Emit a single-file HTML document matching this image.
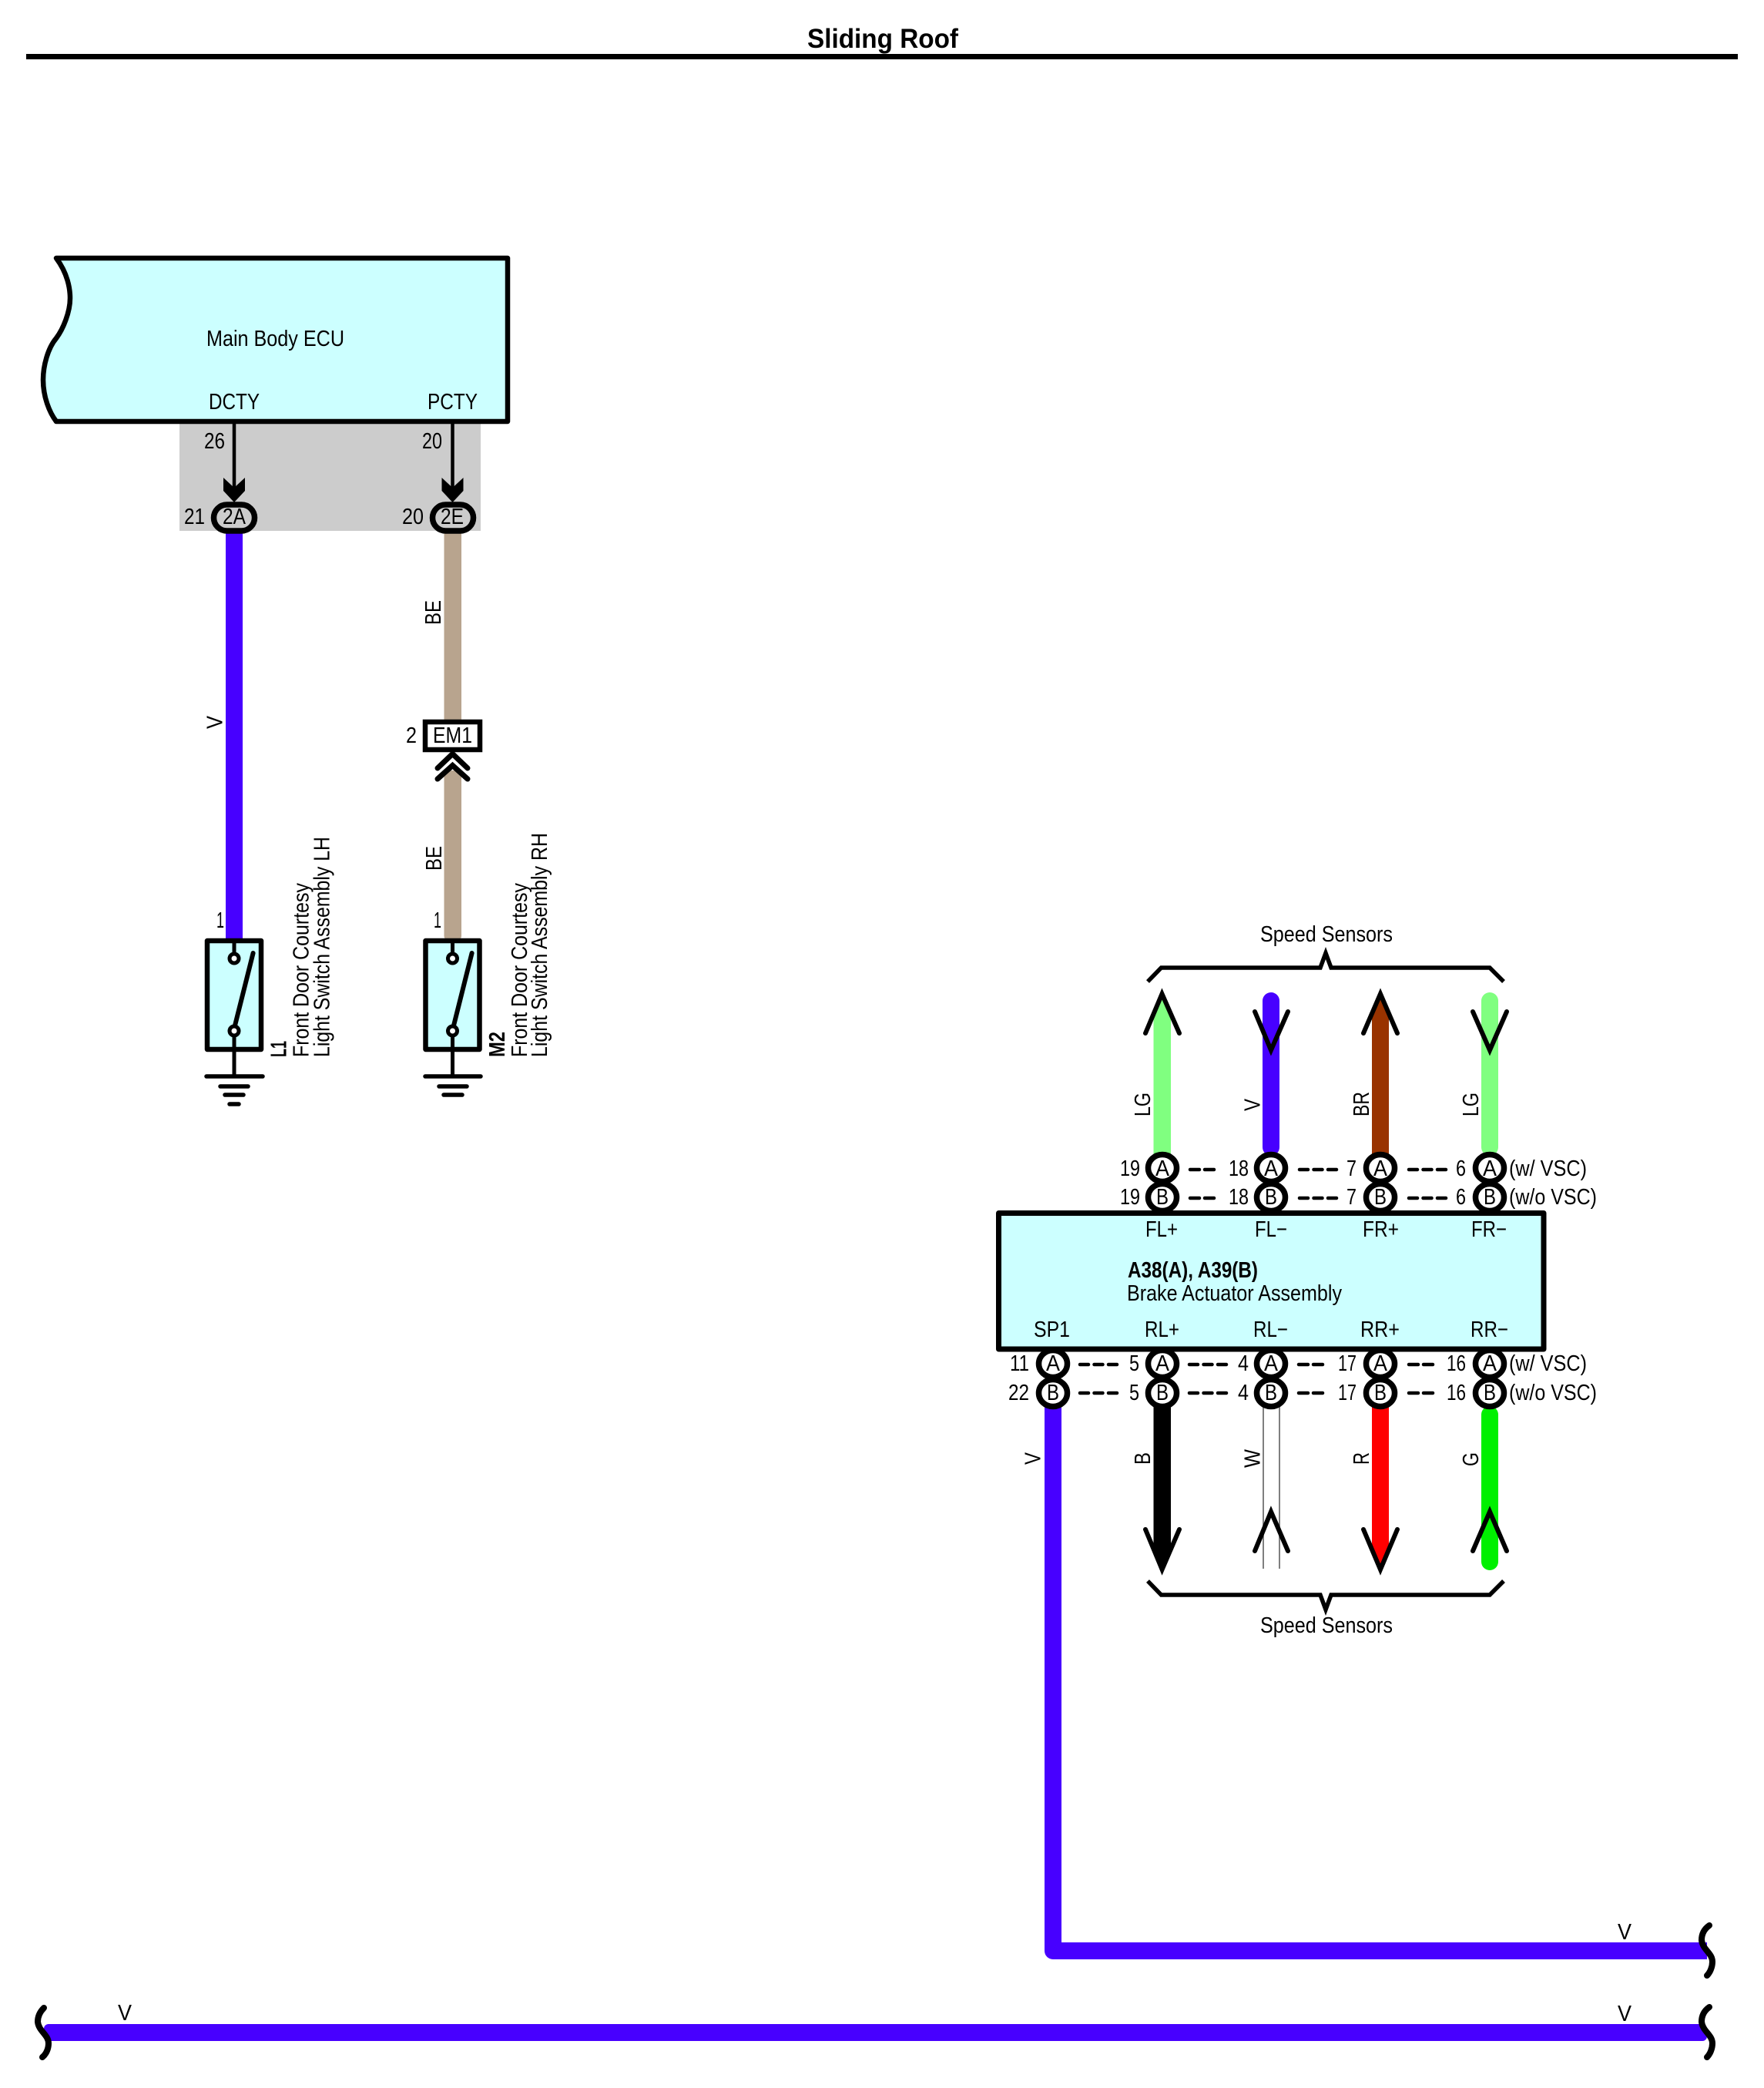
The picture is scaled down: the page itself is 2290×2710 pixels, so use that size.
<!DOCTYPE html>
<html><head><meta charset="utf-8"><title>Sliding Roof</title>
<style>
html,body{margin:0;padding:0;background:#fff}
svg{display:block}
text{font-family:"Liberation Sans",sans-serif;font-size:29px;fill:#000}
.b{font-weight:bold}
.c{stroke:#000;stroke-width:7.5;fill:#fff}
.d{stroke:#000;stroke-width:5.5;fill:none;stroke-linecap:round}
.ch{stroke:#000;stroke-width:6;fill:none;stroke-linecap:round;stroke-linejoin:miter}
</style></head><body>
<svg xmlns="http://www.w3.org/2000/svg" width="2290" height="2710" viewBox="0 0 2290 2710">
<rect width="2290" height="2710" fill="#fff"/>
<!-- title -->
<rect x="34" y="70" width="2222" height="7" fill="#000"/>
<text class="b" x="1048" y="62" style="font-size:35px" textLength="196" lengthAdjust="spacingAndGlyphs">Sliding Roof</text>

<!-- gray block -->
<rect x="233" y="547" width="391" height="142" fill="#ccc"/>
<!-- main body ECU -->
<path d="M73,335 C88,355 91,375 91,387 C91,405 82,427 73,439 C62,452 56,475 56,493 C56,515 64,535 73,547 L659,547 L659,335 Z" fill="#ccffff" stroke="#000" stroke-width="6.5" stroke-linejoin="round"/>
<text x="268" y="449" textLength="179" lengthAdjust="spacingAndGlyphs">Main Body ECU</text>
<text x="271" y="531" textLength="66" lengthAdjust="spacingAndGlyphs">DCTY</text>
<text x="555" y="531" textLength="65" lengthAdjust="spacingAndGlyphs">PCTY</text>
<text x="265" y="582" textLength="27" lengthAdjust="spacingAndGlyphs">26</text>
<text x="548" y="582" textLength="26" lengthAdjust="spacingAndGlyphs">20</text>
<text x="239" y="680" textLength="27" lengthAdjust="spacingAndGlyphs">21</text>
<text x="522" y="680" textLength="28" lengthAdjust="spacingAndGlyphs">20</text>
<line x1="304" y1="550" x2="304" y2="640" stroke="#000" stroke-width="4.5"/>
<line x1="587.5" y1="550" x2="587.5" y2="640" stroke="#000" stroke-width="4.5"/>
<polygon points="290,620 304,633 318,620 318,637 304,652 290,637" fill="#000"/>
<polygon points="573.5,620 587.5,633 601.5,620 601.5,637 587.5,652 573.5,637" fill="#000"/>

<!-- wires left -->
<rect x="293" y="690" width="22" height="530" fill="#4700ff"/>
<rect x="576.5" y="690" width="22.5" height="248" fill="#b8a48e"/>
<rect x="576.5" y="1000" width="22.5" height="220" rx="5" fill="#b8a48e"/>
<rect x="277.5" y="655" width="53" height="34" rx="17" fill="#ccc" stroke="#000" stroke-width="7.5"/>
<rect x="561.5" y="655" width="53" height="34" rx="17" fill="#ccc" stroke="#000" stroke-width="7.5"/>
<text x="289" y="680" textLength="30" lengthAdjust="spacingAndGlyphs">2A</text>
<text x="572" y="680" textLength="30" lengthAdjust="spacingAndGlyphs">2E</text>

<!-- EM1 -->
<rect x="552" y="937" width="71" height="36" fill="#fff" stroke="#000" stroke-width="6.5"/>
<text x="562" y="964" textLength="51" lengthAdjust="spacingAndGlyphs">EM1</text>
<text x="527" y="964" textLength="14" lengthAdjust="spacingAndGlyphs">2</text>
<polyline points="568,997 587.5,978.5 607,997" class="ch" style="stroke-width:7"/>
<polyline points="568,1011 587.5,993.5 607,1011" class="ch" style="stroke-width:7"/>

<!-- left rotated wire labels -->
<text transform="translate(288.6,946) rotate(-90)" textLength="17" lengthAdjust="spacingAndGlyphs">V</text>
<text transform="translate(572,811) rotate(-90)" textLength="32" lengthAdjust="spacingAndGlyphs">BE</text>
<text transform="translate(573,1130) rotate(-90)" textLength="32" lengthAdjust="spacingAndGlyphs">BE</text>
<text x="281" y="1204" textLength="10" lengthAdjust="spacingAndGlyphs">1</text>
<text x="563" y="1204" textLength="10" lengthAdjust="spacingAndGlyphs">1</text>

<!-- switch L1 -->
<rect x="269" y="1221" width="70" height="141" fill="#ccffff" stroke="#000" stroke-width="6.5" stroke-linejoin="round"/>
<line x1="304" y1="1221" x2="304" y2="1237" stroke="#000" stroke-width="5"/>
<circle cx="304" cy="1244" r="6" fill="#fff" stroke="#000" stroke-width="5"/>
<line x1="328.6" y1="1237" x2="305" y2="1331" stroke="#000" stroke-width="6" stroke-linecap="round"/>
<circle cx="304" cy="1338" r="6" fill="#fff" stroke="#000" stroke-width="5"/>
<line x1="304" y1="1345" x2="304" y2="1397" stroke="#000" stroke-width="5"/>
<line x1="268" y1="1397" x2="341" y2="1397" class="d"/>
<line x1="286" y1="1410" x2="322" y2="1410" class="d"/>
<line x1="292" y1="1421" x2="316" y2="1421" class="d"/>
<line x1="298" y1="1433" x2="310" y2="1433" class="d"/>
<text class="b" transform="translate(371.5,1372) rotate(-90)" textLength="21" lengthAdjust="spacingAndGlyphs">L1</text>
<text transform="translate(400.7,1372) rotate(-90)" textLength="226" lengthAdjust="spacingAndGlyphs">Front Door Courtesy</text>
<text transform="translate(427.5,1372) rotate(-90)" textLength="286" lengthAdjust="spacingAndGlyphs">Light Switch Assembly LH</text>

<!-- switch M2 -->
<rect x="552.5" y="1221" width="70" height="141" fill="#ccffff" stroke="#000" stroke-width="6.5" stroke-linejoin="round"/>
<line x1="587.5" y1="1221" x2="587.5" y2="1237" stroke="#000" stroke-width="5"/>
<circle cx="587.5" cy="1244" r="6" fill="#fff" stroke="#000" stroke-width="5"/>
<line x1="612.6" y1="1237" x2="589" y2="1331" stroke="#000" stroke-width="6" stroke-linecap="round"/>
<circle cx="587.5" cy="1338" r="6" fill="#fff" stroke="#000" stroke-width="5"/>
<line x1="587.5" y1="1345" x2="587.5" y2="1397" stroke="#000" stroke-width="5"/>
<line x1="552" y1="1397" x2="624" y2="1397" class="d"/>
<line x1="570" y1="1410" x2="606" y2="1410" class="d"/>
<line x1="576" y1="1421" x2="600" y2="1421" class="d"/>
<text class="b" transform="translate(655,1372) rotate(-90)" textLength="33" lengthAdjust="spacingAndGlyphs">M2</text>
<text transform="translate(684,1372) rotate(-90)" textLength="226" lengthAdjust="spacingAndGlyphs">Front Door Courtesy</text>
<text transform="translate(710,1372) rotate(-90)" textLength="291" lengthAdjust="spacingAndGlyphs">Light Switch Assembly RH</text>

<!-- top speed sensors -->
<text x="1636" y="1222" textLength="172" lengthAdjust="spacingAndGlyphs">Speed Sensors</text>
<polyline points="1490,1274 1507.5,1256 1714,1256 1721,1237 1728,1256 1934,1256 1952,1274" fill="none" stroke="#000" stroke-width="5.5"/>

<polygon points="1497.5,1500 1497.5,1316 1508.5,1290 1520,1316 1520,1500" fill="#80ff80"/>
<rect x="1639" y="1288" width="22" height="212" rx="11" fill="#4700ff"/>
<polygon points="1781,1500 1781,1316 1792,1290 1803,1316 1803,1500" fill="#993300"/>
<rect x="1923" y="1288" width="22" height="212" rx="11" fill="#80ff80"/>
<polyline points="1487,1341 1508.5,1290 1531,1341" class="ch"/>
<polyline points="1629,1313 1650,1363 1672,1313" class="ch"/>
<polyline points="1770,1341 1792,1290 1814,1341" class="ch"/>
<polyline points="1912,1313 1934,1363 1956,1313" class="ch"/>
<text transform="translate(1493,1449) rotate(-90)" textLength="31" lengthAdjust="spacingAndGlyphs">LG</text>
<text transform="translate(1635.6,1442) rotate(-90)" textLength="16" lengthAdjust="spacingAndGlyphs">V</text>
<text transform="translate(1777,1449) rotate(-90)" textLength="32" lengthAdjust="spacingAndGlyphs">BR</text>
<text transform="translate(1919,1449) rotate(-90)" textLength="31" lengthAdjust="spacingAndGlyphs">LG</text>

<!-- bottom wires -->
<polyline points="1367,1825 1367,2532 2216,2532" fill="none" stroke="#4700ff" stroke-width="22" stroke-linejoin="round"/>
<polygon points="1497.5,1825 1497.5,2011 1508.6,2037 1520,2011 1520,1825" fill="#000"/>
<line x1="1640" y1="1825" x2="1640" y2="2036" stroke="#555" stroke-width="1.5"/>
<line x1="1661" y1="1825" x2="1661" y2="2036" stroke="#555" stroke-width="1.5"/>
<polygon points="1781,1825 1781,2011 1792,2037 1803,2011 1803,1825" fill="#ff0000"/>
<rect x="1923" y="1825" width="22" height="213" rx="11" fill="#00f000"/>
<polyline points="1487,1985 1508.6,2037 1531,1985" class="ch"/>
<polyline points="1629,2013 1650,1962 1672,2013" class="ch"/>
<polyline points="1770,1985 1792,2037 1814,1985" class="ch"/>
<polyline points="1912,2013 1934,1962 1956,2013" class="ch"/>
<text transform="translate(1350.6,1901) rotate(-90)" textLength="16" lengthAdjust="spacingAndGlyphs">V</text>
<text transform="translate(1493,1901) rotate(-90)" textLength="16" lengthAdjust="spacingAndGlyphs">B</text>
<text transform="translate(1635.6,1905) rotate(-90)" textLength="24" lengthAdjust="spacingAndGlyphs">W</text>
<text transform="translate(1777,1901) rotate(-90)" textLength="16" lengthAdjust="spacingAndGlyphs">R</text>
<text transform="translate(1919,1903) rotate(-90)" textLength="18" lengthAdjust="spacingAndGlyphs">G</text>
<polyline points="1490,2052 1507.5,2070 1714,2070 1721,2089 1728,2070 1934,2070 1952,2052" fill="none" stroke="#000" stroke-width="5.5"/>
<text x="1636" y="2119" textLength="172" lengthAdjust="spacingAndGlyphs">Speed Sensors</text>

<!-- top connector circles -->
<ellipse class="c" cx="1509" cy="1516" rx="18.5" ry="17.5"/><ellipse class="c" cx="1509" cy="1554" rx="18.5" ry="17.5"/>
<ellipse class="c" cx="1650" cy="1516" rx="18.5" ry="17.5"/><ellipse class="c" cx="1650" cy="1554" rx="18.5" ry="17.5"/>
<ellipse class="c" cx="1792" cy="1516" rx="18.5" ry="17.5"/><ellipse class="c" cx="1792" cy="1554" rx="18.5" ry="17.5"/>
<ellipse class="c" cx="1934" cy="1516" rx="18.5" ry="17.5"/><ellipse class="c" cx="1934" cy="1554" rx="18.5" ry="17.5"/>
<!-- bottom connector circles -->
<ellipse class="c" cx="1367" cy="1770" rx="18.5" ry="17.5"/><ellipse class="c" cx="1367" cy="1808" rx="18.5" ry="17.5"/>
<ellipse class="c" cx="1509" cy="1770" rx="18.5" ry="17.5"/><ellipse class="c" cx="1509" cy="1808" rx="18.5" ry="17.5"/>
<ellipse class="c" cx="1650" cy="1770" rx="18.5" ry="17.5"/><ellipse class="c" cx="1650" cy="1808" rx="18.5" ry="17.5"/>
<ellipse class="c" cx="1792" cy="1770" rx="18.5" ry="17.5"/><ellipse class="c" cx="1792" cy="1808" rx="18.5" ry="17.5"/>
<ellipse class="c" cx="1934" cy="1770" rx="18.5" ry="17.5"/><ellipse class="c" cx="1934" cy="1808" rx="18.5" ry="17.5"/>

<!-- letters in circles -->
<g>
<text x="1500" y="1526" textLength="18" lengthAdjust="spacingAndGlyphs">A</text><text x="1501" y="1563" textLength="16" lengthAdjust="spacingAndGlyphs">B</text>
<text x="1641" y="1526" textLength="18" lengthAdjust="spacingAndGlyphs">A</text><text x="1642" y="1563" textLength="16" lengthAdjust="spacingAndGlyphs">B</text>
<text x="1783" y="1526" textLength="18" lengthAdjust="spacingAndGlyphs">A</text><text x="1784" y="1563" textLength="16" lengthAdjust="spacingAndGlyphs">B</text>
<text x="1925" y="1526" textLength="18" lengthAdjust="spacingAndGlyphs">A</text><text x="1926" y="1563" textLength="16" lengthAdjust="spacingAndGlyphs">B</text>
<text x="1358" y="1779" textLength="18" lengthAdjust="spacingAndGlyphs">A</text><text x="1359" y="1817" textLength="16" lengthAdjust="spacingAndGlyphs">B</text>
<text x="1500" y="1779" textLength="18" lengthAdjust="spacingAndGlyphs">A</text><text x="1501" y="1817" textLength="16" lengthAdjust="spacingAndGlyphs">B</text>
<text x="1641" y="1779" textLength="18" lengthAdjust="spacingAndGlyphs">A</text><text x="1642" y="1817" textLength="16" lengthAdjust="spacingAndGlyphs">B</text>
<text x="1783" y="1779" textLength="18" lengthAdjust="spacingAndGlyphs">A</text><text x="1784" y="1817" textLength="16" lengthAdjust="spacingAndGlyphs">B</text>
<text x="1925" y="1779" textLength="18" lengthAdjust="spacingAndGlyphs">A</text><text x="1926" y="1817" textLength="16" lengthAdjust="spacingAndGlyphs">B</text>
</g>

<!-- box -->
<rect x="1296.5" y="1574.5" width="707.5" height="176.5" fill="#ccffff" stroke="#000" stroke-width="7" stroke-linejoin="round"/>
<text x="1487" y="1605" textLength="42" lengthAdjust="spacingAndGlyphs">FL+</text>
<text x="1629" y="1605" textLength="42" lengthAdjust="spacingAndGlyphs">FL−</text>
<text x="1769" y="1605" textLength="47" lengthAdjust="spacingAndGlyphs">FR+</text>
<text x="1910" y="1605" textLength="46" lengthAdjust="spacingAndGlyphs">FR−</text>
<text class="b" x="1464" y="1658" textLength="169" lengthAdjust="spacingAndGlyphs">A38(A), A39(B)</text>
<text x="1463" y="1688" textLength="279" lengthAdjust="spacingAndGlyphs">Brake Actuator Assembly</text>
<text x="1342" y="1735" textLength="47" lengthAdjust="spacingAndGlyphs">SP1</text>
<text x="1486" y="1735" textLength="45" lengthAdjust="spacingAndGlyphs">RL+</text>
<text x="1627" y="1735" textLength="45" lengthAdjust="spacingAndGlyphs">RL−</text>
<text x="1766" y="1735" textLength="51" lengthAdjust="spacingAndGlyphs">RR+</text>
<text x="1909" y="1735" textLength="49" lengthAdjust="spacingAndGlyphs">RR−</text>

<!-- numbers top -->
<text x="1454" y="1526" textLength="26" lengthAdjust="spacingAndGlyphs">19</text>
<text x="1454" y="1563" textLength="26" lengthAdjust="spacingAndGlyphs">19</text>
<text x="1595" y="1526" textLength="26" lengthAdjust="spacingAndGlyphs">18</text>
<text x="1595" y="1563" textLength="26" lengthAdjust="spacingAndGlyphs">18</text>
<text x="1748" y="1526" textLength="13" lengthAdjust="spacingAndGlyphs">7</text>
<text x="1748" y="1563" textLength="13" lengthAdjust="spacingAndGlyphs">7</text>
<text x="1890" y="1526" textLength="13" lengthAdjust="spacingAndGlyphs">6</text>
<text x="1890" y="1563" textLength="13" lengthAdjust="spacingAndGlyphs">6</text>
<text x="1959" y="1526" textLength="101" lengthAdjust="spacingAndGlyphs">(w/ VSC)</text>
<text x="1959" y="1563" textLength="114" lengthAdjust="spacingAndGlyphs">(w/o VSC)</text>

<!-- numbers bottom -->
<text x="1311" y="1779" textLength="25" lengthAdjust="spacingAndGlyphs">11</text>
<text x="1309" y="1817" textLength="27" lengthAdjust="spacingAndGlyphs">22</text>
<text x="1466" y="1779" textLength="13" lengthAdjust="spacingAndGlyphs">5</text>
<text x="1466" y="1817" textLength="13" lengthAdjust="spacingAndGlyphs">5</text>
<text x="1607" y="1779" textLength="14" lengthAdjust="spacingAndGlyphs">4</text>
<text x="1607" y="1817" textLength="14" lengthAdjust="spacingAndGlyphs">4</text>
<text x="1737" y="1779" textLength="24" lengthAdjust="spacingAndGlyphs">17</text>
<text x="1737" y="1817" textLength="24" lengthAdjust="spacingAndGlyphs">17</text>
<text x="1878" y="1779" textLength="25" lengthAdjust="spacingAndGlyphs">16</text>
<text x="1878" y="1817" textLength="25" lengthAdjust="spacingAndGlyphs">16</text>
<text x="1959" y="1779" textLength="101" lengthAdjust="spacingAndGlyphs">(w/ VSC)</text>
<text x="1959" y="1817" textLength="114" lengthAdjust="spacingAndGlyphs">(w/o VSC)</text>

<!-- dashes -->
<g stroke="#000" stroke-width="4.5" stroke-linecap="round" fill="none">
<path stroke-dasharray="12 7" d="M1545,1518H1576M1545,1555H1576M1829,1771H1860M1829,1808H1860M1686,1771H1717M1686,1808H1717"/>
<path stroke-dasharray="11 7.5" d="M1687,1518H1738M1687,1555H1738M1829,1518H1879M1829,1555H1879M1402,1771H1453M1402,1808H1453M1544,1771H1595M1544,1808H1595"/>
</g>

<!-- bus wires -->
<rect x="57" y="2627" width="2159" height="22" rx="6" fill="#4700ff"/>
<path d="M2219,2499 C2212,2504 2209,2511 2209,2518 C2210,2530 2223,2535 2223,2546 C2223,2553 2220,2560 2216,2564" fill="none" stroke="#000" stroke-width="8" stroke-linecap="round"/>
<path d="M2219,2605 C2212,2610 2209,2617 2209,2624 C2210,2636 2223,2641 2223,2652 C2223,2659 2220,2666 2216,2670" fill="none" stroke="#000" stroke-width="8" stroke-linecap="round"/>
<path d="M57,2606 C52,2611 49,2617 49,2624 C50,2636 63,2641 63,2652 C63,2659 60,2666 55,2670" fill="none" stroke="#000" stroke-width="8" stroke-linecap="round"/>
<text x="2100" y="2517" textLength="18" lengthAdjust="spacingAndGlyphs">V</text>
<text x="2100" y="2623" textLength="18" lengthAdjust="spacingAndGlyphs">V</text>
<text x="153" y="2622" textLength="18" lengthAdjust="spacingAndGlyphs">V</text>
</svg>
</body></html>
